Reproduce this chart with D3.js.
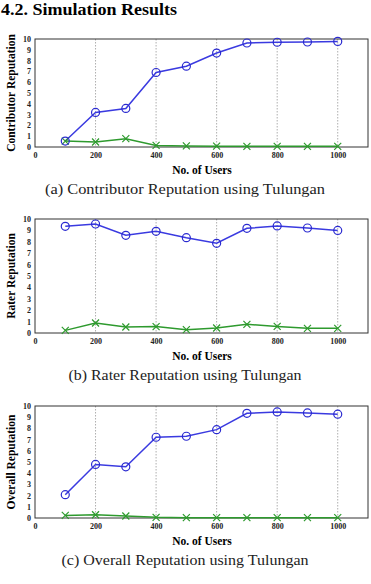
<!DOCTYPE html>
<html>
<head>
<meta charset="utf-8">
<script src="https://cdn.jsdelivr.net/npm/d3@7"></script>
<style>
  body { margin: 0; background: #fff; }
  svg { display: block; }
</style>
</head>
<body>
<svg id="fig" width="371" height="584"></svg>
<script>
// number of users (x axis)
var users = [100, 200, 300, 400, 500, 600, 700, 800, 900, 1000];
var xTicks = [0, 200, 400, 600, 800, 1000];
var yTicks = [0, 1, 2, 3, 4, 5, 6, 7, 8, 9, 10];

// (a) contributor reputation
var contribBlue = [0.55, 3.2, 3.57, 6.9, 7.48, 8.7, 9.63, 9.7, 9.72, 9.78];
var contribGreen = [0.55, 0.46, 0.77, 0.15, 0.1, 0.08, 0.06, 0.06, 0.06, 0.06];
// (b) rater reputation
var raterBlue = [9.36, 9.56, 8.57, 8.92, 8.36, 7.87, 9.18, 9.39, 9.21, 9.0];
var raterGreen = [0.23, 0.88, 0.53, 0.56, 0.29, 0.44, 0.76, 0.58, 0.41, 0.41];
// (c) overall reputation
var overallBlue = [2.08, 4.78, 4.57, 7.21, 7.3, 7.89, 9.35, 9.47, 9.38, 9.27];
var overallGreen = [0.23, 0.29, 0.18, 0.06, 0.03, 0.03, 0.03, 0.03, 0.03, 0.03];

var panels = [
  {top: 39, bottom: 147, ylab: "Contributor Reputation", blue: contribBlue, green: contribGreen,
   caption: "(a) Contributor Reputation using Tulungan", capW: 280},
  {top: 219, bottom: 333, ylab: "Rater Reputation", blue: raterBlue, green: raterGreen,
   caption: "(b) Rater Reputation using Tulungan", capW: 233},
  {top: 406, bottom: 518, ylab: "Overall Reputation", blue: overallBlue, green: overallGreen,
   caption: "(c) Overall Reputation using Tulungan", capW: 247}
];

var svg = d3.select("#fig");
var serif = "'Liberation Serif', 'DejaVu Serif', serif";

svg.append("text").attr("x", 1).attr("y", 15)
  .attr("font-family", serif).attr("font-weight", "bold").attr("font-size", 16)
  .attr("textLength", 176).attr("lengthAdjust", "spacingAndGlyphs")
  .text("4.2. Simulation Results");

var x = d3.scaleLinear().domain([0, 1100]).range([35, 368]);

panels.forEach(function(p) {
  var y = d3.scaleLinear().domain([0, 10]).range([p.bottom, p.top]);
  var g = svg.append("g");

  // dotted vertical grid
  g.selectAll(".grid").data(xTicks.slice(1)).enter().append("line")
    .attr("x1", d => x(d)).attr("x2", d => x(d))
    .attr("y1", p.top).attr("y2", p.bottom)
    .attr("stroke", "#999").attr("stroke-width", 0.8).attr("stroke-dasharray", "1.5,1.5");

  // frame
  g.append("rect").attr("x", x(0)).attr("y", p.top)
    .attr("width", x(1100) - x(0)).attr("height", p.bottom - p.top)
    .attr("fill", "none").attr("stroke", "#333").attr("stroke-width", 1);

  var xa = g.append("g").attr("transform", "translate(0," + p.bottom + ")")
    .call(d3.axisBottom(x).tickValues(xTicks).tickFormat(d3.format("d")).tickSize(0).tickPadding(5));
  var ya = g.append("g").attr("transform", "translate(" + x(0) + ",0)")
    .call(d3.axisLeft(y).tickValues(yTicks).tickSize(0).tickPadding(4));
  [xa, ya].forEach(function(a) {
    a.select(".domain").remove();
    a.selectAll("text").attr("font-family", serif).attr("font-weight", "bold")
      .attr("font-size", 8).attr("fill", "#222");
  });

  var line = d3.line().x((d, i) => x(users[i])).y(d => y(d));
  g.append("path").datum(p.green).attr("d", line)
    .attr("fill", "none").attr("stroke", "#2e9a2e").attr("stroke-width", 1.5);
  g.append("path").datum(p.blue).attr("d", line)
    .attr("fill", "none").attr("stroke", "#3a3ae0").attr("stroke-width", 1.5);

  g.selectAll(".cross").data(p.green).enter().append("path")
    .attr("d", (d, i) => {
      var cx = x(users[i]), cy = y(d), s = 3.5;
      return "M" + (cx - s) + "," + (cy - s) + "L" + (cx + s) + "," + (cy + s) +
             "M" + (cx - s) + "," + (cy + s) + "L" + (cx + s) + "," + (cy - s);
    })
    .attr("stroke", "#2e9a2e").attr("stroke-width", 1.2).attr("fill", "none");

  g.selectAll(".circ").data(p.blue).enter().append("circle")
    .attr("cx", (d, i) => x(users[i])).attr("cy", d => y(d)).attr("r", 4)
    .attr("fill", "none").attr("stroke", "#2a2ad0").attr("stroke-width", 1.2);

  // axis titles
  var midY = (p.top + p.bottom) / 2;
  g.append("text").attr("transform", "translate(15," + midY + ") rotate(-90)")
    .attr("text-anchor", "middle").attr("font-family", serif).attr("font-weight", "bold")
    .attr("font-size", 11.5).text(p.ylab);
  g.append("text").attr("x", 202).attr("y", p.bottom + 27)
    .attr("text-anchor", "middle").attr("font-family", serif).attr("font-weight", "bold")
    .attr("font-size", 11.5).text("No. of Users");

  g.append("text").attr("x", 185).attr("y", p.bottom + 47)
    .attr("text-anchor", "middle").attr("font-family", serif)
    .attr("font-size", 14).attr("fill", "#222")
    .attr("textLength", p.capW).attr("lengthAdjust", "spacingAndGlyphs")
    .text(p.caption);
});
</script>
</body>
</html>
